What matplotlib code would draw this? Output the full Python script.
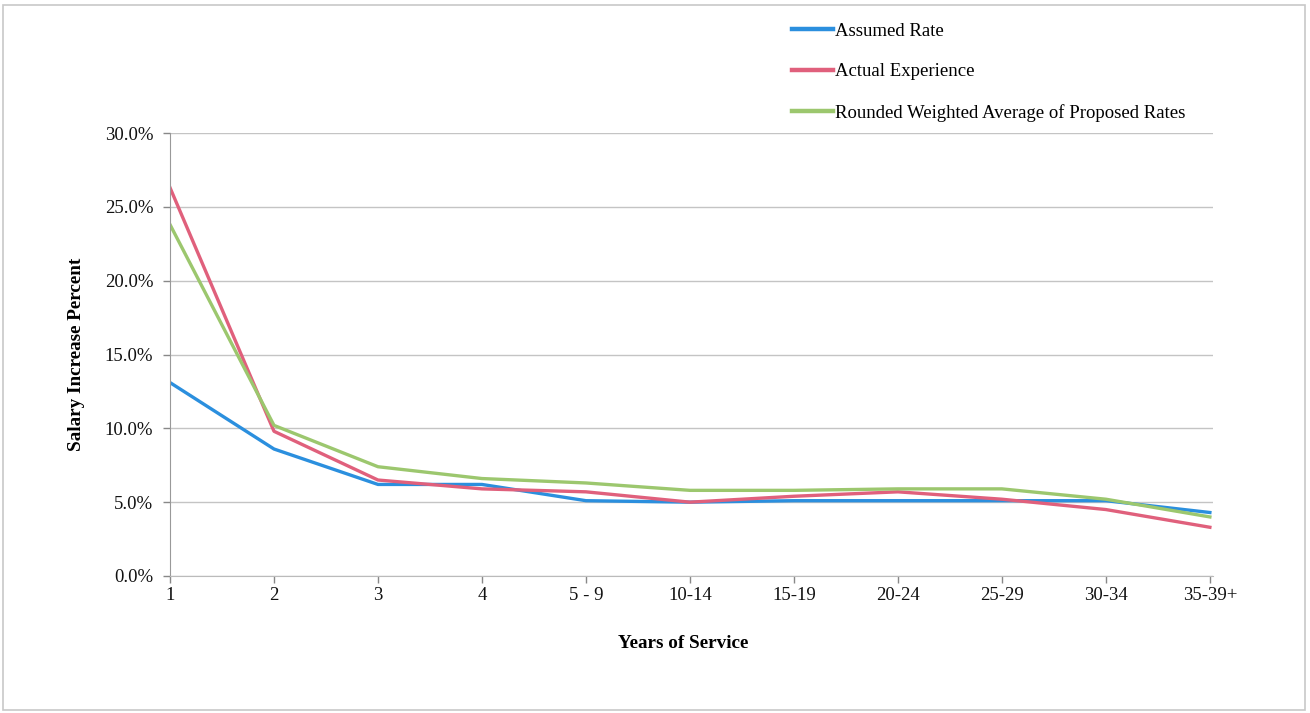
import matplotlib
matplotlib.use("Agg")
import matplotlib.pyplot as plt
from matplotlib.patches import Rectangle

categories = ["1", "2", "3", "4", "5 - 9", "10-14", "15-19", "20-24", "25-29", "30-34", "35-39+"]
assumed = [13.1, 8.6, 6.2, 6.2, 5.1, 5.0, 5.1, 5.1, 5.1, 5.1, 4.3]
actual = [26.3, 9.8, 6.5, 5.9, 5.7, 5.0, 5.4, 5.7, 5.2, 4.5, 3.3]
proposed = [23.8, 10.2, 7.4, 6.6, 6.3, 5.8, 5.8, 5.9, 5.9, 5.2, 4.0]
series_names = ["Assumed Rate", "Actual Experience", "Rounded Weighted Average of Proposed Rates"]
yticks = [0, 5, 10, 15, 20, 25, 30]

plt.rcParams['font.family'] = ['Liberation Serif', 'DejaVu Serif']

W, H = 1310, 713
fig = plt.figure(figsize=(W / 100, H / 100), dpi=100)
fig.patch.set_facecolor("white")
fig.add_artist(Rectangle((3 / W, 3 / H), 1302 / W, 705 / H, transform=fig.transFigure,
                         fill=False, edgecolor="#c8c8c8", linewidth=1.2))

ax = fig.add_axes([170 / W, 1 - 576 / H, (1213 - 170) / W, (576 - 133) / H])
x = list(range(len(categories)))
colors = ["#2b8fde", "#e0607c", "#9cc76e"]
lines = []
for vals, c, name in zip([assumed, actual, proposed], colors, series_names):
    ln, = ax.plot(x, vals, color=c, linewidth=2.4, label=name, solid_joinstyle="round")
    lines.append(ln)

ax.set_xlim(0, 10.03)
ax.set_ylim(0, 30)
ax.set_yticks(yticks)
ax.set_yticklabels([f"{v:.1f}%" for v in yticks])
ax.set_xticks(x)
ax.set_xticklabels(categories)
ax.tick_params(axis="both", labelsize=13.5, colors="#888888", labelcolor="#111111", length=5, width=1)
ax.tick_params(axis="x", pad=3)
ax.tick_params(axis="y", pad=7)
ax.grid(axis="y", color="#c4c4c4", linewidth=1)
ax.set_axisbelow(True)
for s in ["top", "right"]:
    ax.spines[s].set_visible(False)
ax.spines["left"].set_color("#999999")
ax.spines["bottom"].set_color("#bbbbbb")

ax.set_ylabel("Salary Increase Percent", fontsize=13.8, fontweight="bold", labelpad=14)
ax.set_xlabel("Years of Service", fontsize=13.8, fontweight="bold")
ax.xaxis.set_label_coords(0.492, -0.133)

leg = fig.legend(handles=lines, loc="upper left", bbox_to_anchor=(784 / W, 1 - 15 / H),
                 frameon=False, fontsize=13.5, handlelength=2.2, handletextpad=0.1,
                 labelspacing=1.25, borderaxespad=0)
for h in leg.get_lines():
    h.set_linewidth(3.2)

fig.savefig("out.png", dpi=100, facecolor="white")
